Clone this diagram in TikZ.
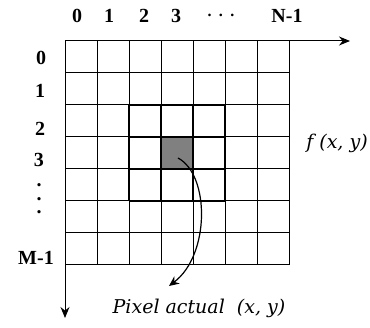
\documentclass[tikz,border=0pt]{standalone}
\usepackage{fontspec}
\setmainfont{Liberation Serif}
\newfontfamily\cursiva{DejaVu Serif}
\usetikzlibrary{arrows.meta, positioning}

\begin{document}
\begin{tikzpicture}[x=1pt,y=-1pt,
  etiq/.style={font=\fontsize{20}{24}\selectfont\bfseries, anchor=base, inner sep=0pt},
  punto/.style={font=\fontsize{20}{13.5}\selectfont\bfseries, inner sep=0pt, align=center},
  texto/.style={font=\fontsize{19}{22}\selectfont\cursiva\itshape, anchor=base, inner sep=0pt}]
\useasboundingbox (0,0) rectangle (370,328);

% Pixel actual en gris
\fill[gray] (161,137) rectangle (193,169);

% Dibuja la rejilla de 7x7 pixeles
\foreach \i in {0,...,7} {
    \draw[line width=1pt] ({65+32*\i},41) -- ({65+32*\i},265);
    \draw[line width=1pt] (65,{41+32*\i}) -- (289,{41+32*\i});
}

% Vecindad 3x3 con borde grueso
\foreach \i in {0,...,3} {
    \draw[line width=2.8pt] ({129+32*\i},105) -- ({129+32*\i},201);
    \draw[line width=2.8pt] (129,{105+32*\i}) -- (225,{105+32*\i});
}

% Ejes x (columnas) e y (filas)
\coordinate (O) at (65,41);
\coordinate (X) at (350,41);
\coordinate (Y) at (65,318);
\draw[line width=1pt,-{Stealth[length=11pt,width=9pt]}] (O) -- (X);
\draw[line width=1pt,-{Stealth[length=11pt,width=9pt]}] (O) -- (Y);

% Etiquetas de columnas
\node[etiq] (c0) at (77,23) {0};
\node[etiq] (c1) at (109,23) {1};
\node[etiq] (c2) at (144,23) {2};
\node[etiq] (c3) at (176,23) {3};
\node[punto, font=\fontsize{16}{18}\selectfont\bfseries] (cd) at (221,15) {.\hspace{7.5pt}.\hspace{7.5pt}.};
\node[etiq] (cn) at (287,23) {N-1};

% Etiquetas de filas
\node[etiq] (f0) at (41,65) {0};
\node[etiq] (f1) at (40,98) {1};
\node[etiq] (f2) at (40,136) {2};
\node[etiq] (f3) at (39,167) {3};
\node[punto] (fd) at (39,199) {.\\.\\.};
\node[etiq] (fm) at (36,265) {M-1};

% Funcion imagen
\node[texto] (fxy) at (337,149) {f (x, y)};

% Flecha al pixel actual
\coordinate (P) at (178,158);
\coordinate (Q) at (169,286);
\draw[line width=1.2pt,-{Stealth[length=10pt,width=9pt]}] (P) .. controls (210,175) and (210,255) .. (Q);
\node[texto] (pix) at (199,314) {Pixel actual\ \ (x, y)};

\end{tikzpicture}
\end{document}
